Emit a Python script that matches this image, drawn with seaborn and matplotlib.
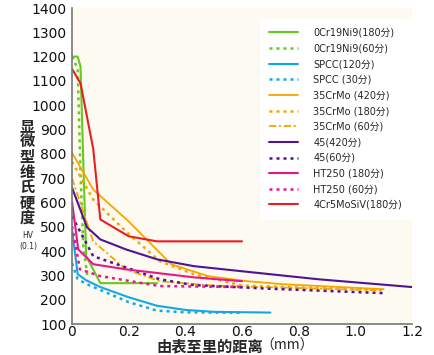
import matplotlib
matplotlib.use("Agg")
import matplotlib.pyplot as plt
import seaborn as sns
import pandas as pd

# ---- data ----
labels = ["0Cr19Ni9(180分)", "0Cr19Ni9(60分)", "SPCC(120分)", "SPCC (30分)",
          "35CrMo (420分)", "35CrMo (180分)", "35CrMo (60分)", "45(420分)",
          "45(60分)", "HT250 (180分)", "HT250 (60分)", "4Cr5MoSiV(180分)"]

x_cr_180 = [0, 0.02, 0.03, 0.04, 0.05, 0.1, 0.3]
y_cr_180 = [1200, 1200, 1160, 760, 380, 268, 268]
x_cr_60 = [0, 0.02, 0.03, 0.04, 0.055]
y_cr_60 = [1200, 1150, 720, 420, 290]
x_spcc_120 = [0, 0.02, 0.05, 0.1, 0.2, 0.3, 0.4, 0.5, 0.7]
y_spcc_120 = [490, 305, 280, 252, 210, 175, 158, 150, 147]
x_spcc_30 = [0, 0.02, 0.05, 0.1, 0.2, 0.3, 0.4, 0.6]
y_spcc_30 = [350, 285, 265, 240, 190, 155, 148, 146]
x_35_420 = [0, 0.075, 0.2, 0.35, 0.48, 0.62, 0.74, 1.1]
y_35_420 = [805, 653, 522, 346, 297, 276, 264, 243]
x_35_180 = [0, 0.075, 0.19, 0.31, 0.43, 0.6, 1.1]
y_35_180 = [768, 612, 481, 358, 305, 258, 240]
x_35_60 = [0, 0.075, 0.19, 0.31, 0.5, 0.8, 1.1]
y_35_60 = [700, 440, 325, 276, 258, 248, 238]
x_45_420 = [0, 0.053, 0.1, 0.19, 0.3, 0.43, 0.6, 0.87, 1.2]
y_45_420 = [661, 498, 448, 407, 366, 338, 317, 284, 252]
x_45_60 = [0, 0.075, 0.19, 0.31, 0.43, 0.7, 1.1]
y_45_60 = [543, 379, 333, 284, 260, 245, 227]
x_ht_180 = [0, 0.022, 0.075, 0.19, 0.43, 0.6]
y_ht_180 = [604, 407, 346, 325, 292, 276]
x_ht_60 = [0, 0.028, 0.1, 0.31, 0.6]
y_ht_60 = [502, 325, 297, 256, 252]
x_4cr = [0, 0.03, 0.075, 0.1, 0.2, 0.3, 0.6]
y_4cr = [1150, 1090, 820, 530, 461, 440, 440]

xs = [x_cr_180, x_cr_60, x_spcc_120, x_spcc_30, x_35_420, x_35_180, x_35_60,
      x_45_420, x_45_60, x_ht_180, x_ht_60, x_4cr]
ys = [y_cr_180, y_cr_60, y_spcc_120, y_spcc_30, y_35_420, y_35_180, y_35_60,
      y_45_420, y_45_60, y_ht_180, y_ht_60, y_4cr]

x_ticks = [0, 0.2, 0.4, 0.6, 0.8, 1.0, 1.2]
x_tick_labels = ["0", "0.2", "0.4", "0.6", "0.8", "1.0", "1.2"]
y_ticks = list(range(100, 1401, 100))

# ---- styles ----
green, cyan, orange, purple, pink, red = "#66c91c", "#12a8e6", "#f8a500", "#4f1496", "#e8168a", "#ec1c24"
dot = (0, (1.2, 1.6))
dashdot = (0, (4, 1.5, 1.2, 1.5))
colors = [green, green, cyan, cyan, orange, orange, orange, purple, purple, pink, pink, red]
styles = ["-", dot, "-", dot, "-", dot, dashdot, "-", dot, "-", dot, "-"]
widths = [1.5, 1.8, 1.5, 1.8, 1.3, 1.8, 1.3, 1.5, 1.8, 1.5, 1.8, 1.5]

sns.set_style("white")
plt.rcParams['font.family'] = ['DejaVu Sans', 'Noto Sans CJK SC']

fig = plt.figure(figsize=(4.35, 3.55), dpi=100)
ax = fig.add_axes([72/435, 31/355, 340/435, 316/355])
ax.set_facecolor("#fdfaf1")

for lab, x, y, c, s, w in zip(labels, xs, ys, colors, styles, widths):
    df = pd.DataFrame({"x": x, "y": y})
    sns.lineplot(data=df, x="x", y="y", ax=ax, color=c, linestyle=s, linewidth=w,
                 sort=False, estimator=None, label=lab)

ax.set_xlim(0, 1.2)
ax.set_ylim(100, 1400)
ax.set_xticks(x_ticks)
ax.set_xticklabels(x_tick_labels)
ax.set_yticks(y_ticks)
ax.set_xlabel("")
ax.set_ylabel("")
ax.tick_params(axis="both", direction="in", length=5, width=0.8, color="#777777",
               labelsize=10, labelcolor="#111111")
ax.tick_params(axis="x", pad=1)
ax.tick_params(axis="y", pad=4)
for sp in ["top", "right"]:
    ax.spines[sp].set_visible(False)
for sp in ["left", "bottom"]:
    ax.spines[sp].set_color("#777777")
    ax.spines[sp].set_linewidth(1.2)

leg = ax.legend(loc="upper left", bbox_to_anchor=(0.553, 0.965), frameon=True,
                fontsize=7, handlelength=3.0, handletextpad=1.6, labelspacing=0.58,
                borderpad=0.9, borderaxespad=0)
leg.get_frame().set_facecolor("white")
leg.get_frame().set_edgecolor("white")
leg.get_frame().set_alpha(1)
leg.get_frame().set_boxstyle("square", pad=0)

# y label stacked vertically
fig.text(27/435, 1 - 172/355, "\n".join("显微型维氏硬度"), ha="center", va="center",
         fontsize=11, fontweight="bold", family=['Noto Sans CJK SC'], linespacing=0.95)
fig.text(28/435, 1 - 236/355, "HV", ha="center", va="center", fontsize=5.5)
fig.text(28/435, 1 - 246/355, "(0.1)", ha="center", va="center", fontsize=5.5)

# x label
fig.text(210/435, 1 - 346/355, "由表至里的距离", ha="center", va="center",
         fontsize=11, fontweight="bold", family=['Noto Sans CJK SC'])
fig.text(287/435, 1 - 346/355, "（mm）", ha="center", va="center",
         fontsize=10, family=['Noto Sans CJK SC', 'DejaVu Sans'])

fig.savefig("out.png", dpi=100)
